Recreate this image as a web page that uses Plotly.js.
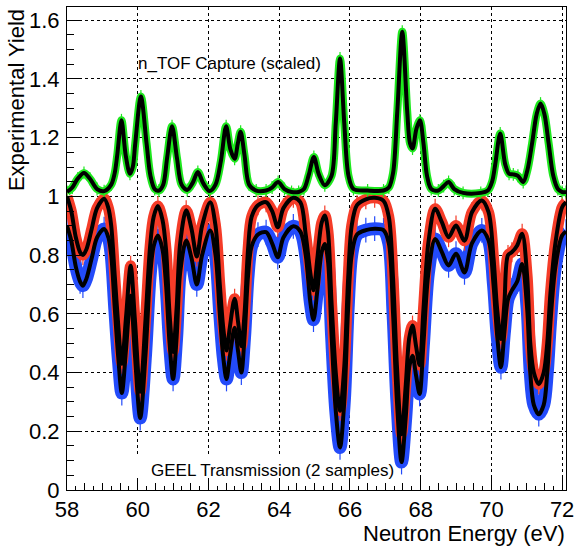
<!DOCTYPE html>
<html>
<head>
<meta charset="utf-8">
<script src="https://cdn.plot.ly/plotly-3.0.1.min.js"></script>
<style>html,body{margin:0;padding:0;background:#fff;}#chart{width:575px;height:548px;}</style>
</head>
<body>
<div id="chart"></div>
<script>
// Transmission (GEEL, 2 samples): energy grid, thin-sample and thick-sample yields
const transE = [58.00,58.12,58.25,58.37,58.45,58.55,58.70,58.85,59.05,59.17,
  59.25,59.35,59.45,59.55,59.67,59.80,59.92,60.07,60.22,60.35,
  60.45,60.57,60.70,60.80,60.90,61.00,61.10,61.20,61.37,61.52,
  61.67,61.82,62.05,62.20,62.32,62.42,62.51,62.60,62.74,62.84,
  62.93,63.02,63.12,63.22,63.40,63.63,63.80,63.96,64.12,64.40,
  64.60,64.75,64.88,64.97,65.08,65.20,65.29,65.38,65.48,65.60,
  65.72,65.84,65.95,66.05,66.20,66.45,66.70,66.95,67.10,67.22,
  67.33,67.46,67.58,67.68,67.77,67.87,67.97,68.08,68.22,68.41,
  68.60,68.79,69.00,69.24,69.45,69.73,69.92,70.06,70.16,70.27,
  70.37,70.47,70.58,70.73,70.87,71.01,71.10,71.20,71.34,71.48,
  71.58,71.67,71.81,72.00,72.11];
const thinY = [1.00,0.95,0.86,0.81,0.80,0.82,0.89,0.96,0.992,0.96,
  0.90,0.73,0.56,0.43,0.59,0.764,0.58,0.335,0.58,0.83,
  0.93,0.967,0.92,0.82,0.60,0.47,0.62,0.84,0.953,0.89,
  0.795,0.90,0.98,0.90,0.70,0.55,0.475,0.55,0.651,0.57,
  0.49,0.60,0.82,0.93,0.97,0.98,0.95,0.895,0.96,0.995,
  0.98,0.87,0.74,0.68,0.79,0.91,0.935,0.88,0.64,0.40,
  0.27,0.42,0.72,0.90,0.97,0.99,0.995,0.985,0.93,0.72,
  0.42,0.19,0.36,0.52,0.56,0.49,0.425,0.617,0.844,0.958,
  0.912,0.861,0.901,0.849,0.946,0.986,0.946,0.79,0.62,0.514,
  0.64,0.80,0.81,0.833,0.873,0.73,0.50,0.40,0.36,0.40,
  0.50,0.67,0.84,0.963,0.98];
const thickY = [0.90,0.85,0.76,0.71,0.696,0.72,0.79,0.86,0.889,0.86,
  0.80,0.62,0.45,0.33,0.48,0.662,0.46,0.245,0.46,0.73,
  0.83,0.867,0.82,0.70,0.50,0.378,0.52,0.74,0.85,0.79,
  0.70,0.80,0.884,0.80,0.60,0.45,0.378,0.45,0.553,0.47,
  0.40,0.52,0.73,0.83,0.87,0.878,0.84,0.793,0.86,0.898,
  0.88,0.80,0.64,0.58,0.68,0.81,0.838,0.78,0.53,0.27,
  0.145,0.30,0.62,0.80,0.87,0.885,0.89,0.885,0.84,0.60,
  0.30,0.095,0.25,0.42,0.457,0.39,0.327,0.50,0.74,0.855,
  0.81,0.765,0.805,0.741,0.84,0.884,0.85,0.70,0.53,0.418,
  0.54,0.65,0.68,0.71,0.77,0.62,0.40,0.29,0.258,0.29,
  0.40,0.57,0.76,0.867,0.88];

// n_TOF capture yield (scaled)
const capE = [58.00,58.15,58.30,58.48,58.65,58.85,59.05,59.25,59.35,59.42,
  59.54,59.66,59.78,59.86,59.93,60.09,60.25,60.36,60.48,60.60,
  60.72,60.83,60.97,61.11,61.24,61.40,61.55,61.70,61.85,62.03,
  62.20,62.35,62.50,62.62,62.74,62.83,62.91,63.02,63.15,63.35,
  63.63,63.80,63.97,64.15,64.35,64.55,64.70,64.84,64.98,65.12,
  65.29,65.48,65.60,65.72,65.84,65.96,66.10,66.50,66.95,67.10,
  67.22,67.34,67.48,67.62,67.70,67.77,67.88,67.98,68.08,68.18,
  68.30,68.50,68.65,68.79,68.95,69.20,69.70,69.90,70.02,70.11,
  70.25,70.39,70.50,70.62,70.75,70.90,71.02,71.15,71.28,71.39,
  71.50,71.62,71.75,71.88,72.00,72.11];
const capY = [1.015,1.03,1.06,1.08,1.06,1.025,1.018,1.04,1.08,1.14,
  1.259,1.14,1.077,1.10,1.18,1.34,1.18,1.07,1.025,1.02,
  1.04,1.13,1.239,1.13,1.04,1.022,1.045,1.083,1.045,1.018,
  1.04,1.12,1.239,1.16,1.128,1.18,1.22,1.14,1.04,1.02,
  1.02,1.03,1.049,1.025,1.015,1.015,1.025,1.075,1.134,1.075,
  1.038,1.07,1.25,1.47,1.25,1.07,1.025,1.02,1.02,1.03,
  1.08,1.29,1.561,1.29,1.18,1.163,1.23,1.259,1.18,1.07,
  1.025,1.02,1.035,1.049,1.025,1.012,1.012,1.02,1.05,1.11,
  1.214,1.11,1.077,1.075,1.07,1.049,1.09,1.18,1.28,1.316,
  1.28,1.18,1.07,1.025,1.015,1.015];

const xTicks = [58,60,62,64,66,68,70,72];
const yTicks = [0,0.2,0.4,0.6,0.8,1,1.2,1.4,1.6];
const yTickText = ['0','0.2','0.4','0.6','0.8','1','1.2','1.4','1.6'];

const FONT = 'Liberation Sans, Arial, Helvetica, sans-serif';
const sm = 0.9;
const BLUE = 'rgb(35,75,250)', RED = 'rgb(245,60,40)', GREEN = 'rgb(30,232,30)';

function band(x, y, color, width, err) {
  return {x: x, y: y, type: 'scatter', mode: 'lines+markers',
    line: {color: color, width: width, shape: 'spline', smoothing: sm},
    marker: {color: color, size: 2},
    error_y: {type: 'constant', value: err, color: color, thickness: 1.2, width: 0},
    hoverinfo: 'skip', showlegend: false};
}
function fit(x, y) {
  return {x: x, y: y, type: 'scatter', mode: 'lines',
    line: {color: '#000', width: 4, shape: 'spline', smoothing: sm},
    showlegend: false};
}

const data = [
  band(transE, thickY, BLUE, 13, 0.042),
  band(transE, thinY, RED, 11, 0.034),
  band(capE, capY, GREEN, 8, 0.022),
  fit(transE, thickY),
  fit(transE, thinY),
  fit(capE, capY),
  {x: [], y: [], xaxis: 'x2', yaxis: 'y', type: 'scatter', showlegend: false}
];

const layout = {
  width: 575, height: 548,
  margin: {l: 67, r: 9, t: 7, b: 58, pad: 0},
  paper_bgcolor: '#fff', plot_bgcolor: '#fff',
  font: {family: FONT, color: '#000', size: 22},
  showlegend: false,
  xaxis: {
    range: [58, 72.11], tickvals: xTicks, ticktext: xTicks.map(String),
    ticks: 'inside', ticklen: 12, tickwidth: 1, tickcolor: '#000',
    minor: {dtick: 0.25, tick0: 58, ticks: 'inside', ticklen: 4, tickcolor: '#000', showgrid: false},
    showgrid: true, gridcolor: '#000', griddash: 'dot', gridwidth: 1,
    showline: true, linecolor: '#000', linewidth: 1, mirror: true,
    zeroline: false, tickfont: {size: 22, family: FONT}
  },
  xaxis2: {
    overlaying: 'x', anchor: 'y', side: 'bottom', range: [58, 72.11],
    dtick: 0.5, tick0: 58, ticks: 'inside', ticklen: 7, tickcolor: '#000',
    showticklabels: false, showgrid: false, showline: false, zeroline: false
  },
  yaxis: {
    range: [0, 1.645], tickvals: yTicks, ticktext: yTickText,
    ticks: 'inside', ticklen: 14, tickwidth: 1, tickcolor: '#000',
    ticklabelstandoff: 2,
    minor: {dtick: 0.05, tick0: 0, ticks: 'inside', ticklen: 7, tickcolor: '#000', showgrid: false},
    showgrid: true, gridcolor: '#000', griddash: 'dot', gridwidth: 1,
    showline: true, linecolor: '#000', linewidth: 1, mirror: true,
    zeroline: false, tickfont: {size: 22, family: FONT}
  },
  shapes: [
    {type: 'rect', xref: 'x', yref: 'y', x0: 58.03, x1: 67.6, y0: 0.003, y1: 0.118,
     fillcolor: '#fff', line: {width: 0}, layer: 'between'}
  ],
  annotations: [
    {text: 'Neutron Energy (eV)', xref: 'paper', yref: 'paper', x: 1.002, y: -0.091,
     xanchor: 'right', yanchor: 'middle', showarrow: false, font: {size: 22, family: FONT}},
    {text: 'Experimental Yield', xref: 'paper', yref: 'paper', x: -0.102, y: 1,
     xanchor: 'center', yanchor: 'top', textangle: -90, showarrow: false, font: {size: 22, family: FONT}},
    {text: 'n_TOF Capture (scaled)', xref: 'x', yref: 'y', x: 59.96, y: 1.453,
     xanchor: 'left', yanchor: 'middle', showarrow: false, font: {size: 17, family: FONT}},
    {text: 'GEEL Transmission (2 samples)', xref: 'x', yref: 'y', x: 60.33, y: 0.065,
     xanchor: 'left', yanchor: 'middle', showarrow: false, font: {size: 17, family: FONT}}
  ]
};

Plotly.newPlot('chart', data, layout, {staticPlot: true, displayModeBar: false});
</script>
</body>
</html>
